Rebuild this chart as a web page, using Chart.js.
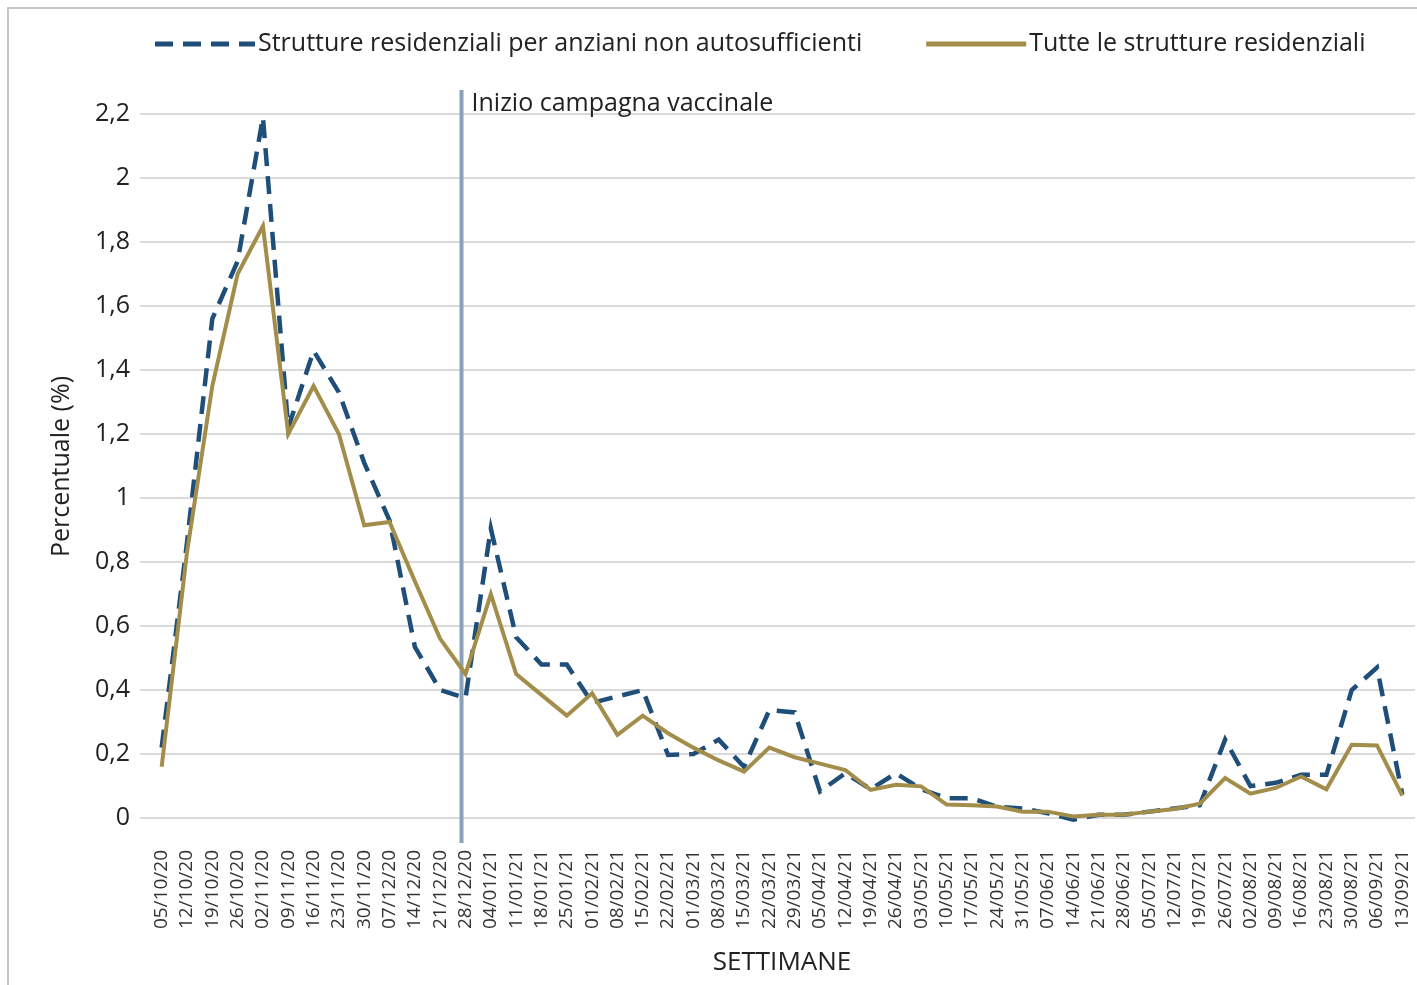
<!DOCTYPE html>
<html>
<head>
<meta charset="utf-8">
<script src="https://cdn.jsdelivr.net/npm/chart.js@4/dist/chart.umd.min.js"></script>
<style>
    html,body{margin:0;padding:0;background:#fff;overflow:hidden;}
    .cornice{position:absolute;left:7px;top:7px;width:1500px;height:1100px;border:2px solid #c6c6c6;}
    .box{position:absolute;left:0;top:0;width:1417px;height:985px;}
</style>
</head>
<body>
<div class="cornice"></div>
<div class="box"><canvas id="rsaChart"></canvas></div>
<script>

/* ============================================================
   DATI
============================================================ */

const settimane=[
    "05/10/20","12/10/20","19/10/20","26/10/20","02/11/20","09/11/20","16/11/20","23/11/20",
    "30/11/20","07/12/20","14/12/20","21/12/20","28/12/20","04/01/21","11/01/21","18/01/21",
    "25/01/21","01/02/21","08/02/21","15/02/21","22/02/21","01/03/21","08/03/21","15/03/21",
    "22/03/21","29/03/21","05/04/21","12/04/21","19/04/21","26/04/21","03/05/21","10/05/21",
    "17/05/21","24/05/21","31/05/21","07/06/21","14/06/21","21/06/21","28/06/21","05/07/21",
    "12/07/21","19/07/21","26/07/21","02/08/21","09/08/21","16/08/21","23/08/21","30/08/21",
    "06/09/21","13/09/21"
];

const anzianiNonAutosuff=[
    0.22,0.86,1.56,1.74,2.19,1.22,1.46,1.33,1.11,0.93,
    0.535,0.40,0.375,0.905,0.565,0.48,0.48,0.36,0.38,0.40,
    0.197,0.20,0.245,0.16,0.337,0.33,0.083,0.14,0.09,0.14,
    0.09,0.062,0.062,0.035,0.03,0.015,-0.005,0.01,0.01,0.02,
    0.03,0.04,0.245,0.10,0.11,0.135,0.135,0.40,0.47,0.073
];

const tutteStrutture=[
    0.16,0.83,1.35,1.70,1.85,1.20,1.35,1.20,0.915,0.925,
    0.74,0.56,0.45,0.70,0.45,0.385,0.32,0.39,0.26,0.32,
    0.265,0.22,0.18,0.145,0.22,0.19,0.17,0.15,0.088,0.104,
    0.099,0.042,0.04,0.036,0.02,0.02,0.005,0.01,0.01,0.02,
    0.028,0.045,0.125,0.076,0.094,0.13,0.09,0.229,0.227,0.07
];

const tickY=[0,0.2,0.4,0.6,0.8,1,1.2,1.4,1.6,1.8,2,2.2];

const inizioVaccini="28/12/20";

const FONT="'Open Sans', sans-serif";


/* ============================================================
   LINEA VERTICALE + LEGENDA
============================================================ */

const lineaVaccini={
    id:"lineaVaccini",
    beforeDatasetsDraw(chart){
        const {ctx,chartArea,scales}=chart;
        const x=scales.x.getPixelForValue(settimane.indexOf(inizioVaccini))-4;
        ctx.save();
        ctx.strokeStyle="#8aa1b9";
        ctx.lineWidth=4;
        ctx.beginPath();
        ctx.moveTo(x,chartArea.top);
        ctx.lineTo(x,chartArea.bottom);
        ctx.stroke();
        ctx.fillStyle="#222";
        ctx.font="25px "+FONT;
        ctx.textBaseline="middle";
        ctx.fillText("Inizio campagna vaccinale",x+10,104);
        ctx.restore();
    }
};

const legenda={
    id:"legenda",
    afterDraw(chart){
        const ctx=chart.ctx;
        let x=155;
        const y=44;
        ctx.save();
        ctx.font="25px "+FONT;
        ctx.textBaseline="middle";
        chart.data.datasets.forEach(ds=>{
            ctx.strokeStyle=ds.borderColor;
            ctx.lineWidth=5;
            ctx.setLineDash(ds.borderDash||[]);
            ctx.beginPath();
            ctx.moveTo(x,y);
            ctx.lineTo(x+100,y);
            ctx.stroke();
            ctx.setLineDash([]);
            ctx.fillStyle="#222";
            ctx.fillText(ds.label,x+103,y);
            x+=103+ctx.measureText(ds.label).width+64;
        });
        ctx.restore();
    }
};


/* ============================================================
   GRAFICO
============================================================ */

const rsa=document.getElementById("rsaChart");

new Chart(rsa,{
    type:"line",
    data:{
        labels:settimane,
        datasets:[{
            label:"Strutture residenziali per anziani non autosufficienti",
            data:anzianiNonAutosuff,
            borderColor:"#1f4e79",
            borderWidth:4.5,
            borderDash:[18,10],
            pointRadius:0,
            tension:0,
            order:1
        },{
            label:"Tutte le strutture residenziali",
            data:tutteStrutture,
            borderColor:"#a38d4a",
            borderWidth:4,
            pointRadius:0,
            tension:0,
            order:0
        }]
    },
    options:{
        responsive:true,
        maintainAspectRatio:false,
        animation:false,
        layout:{padding:{top:90,right:2,left:0,bottom:0}},
        plugins:{
            legend:{display:false},
            tooltip:{enabled:false}
        },
        scales:{
            x:{
                offset:true,
                grid:{display:false,drawTicks:false},
                border:{display:false},
                ticks:{
                    autoSkip:false,
                    maxRotation:90,
                    minRotation:90,
                    padding:7,
                    color:"#333",
                    font:{family:FONT,size:19}
                },
                title:{
                    display:true,
                    text:"SETTIMANE",
                    color:"#222",
                    font:{family:FONT,size:26},
                    padding:{top:0,bottom:7}
                },
                afterFit:s=>{
                    s.height=142;
                    s.paddingLeft=0;
                    s.paddingRight=0;
                }
            },
            y:{
                min:-0.078,
                max:2.275,
                afterBuildTicks:s=>{s.ticks=tickY.map(v=>({value:v}));},
                grid:{color:"#dadada",lineWidth:2,tickLength:9},
                border:{display:false},
                ticks:{
                    padding:10,
                    color:"#222",
                    font:{family:FONT,size:25},
                    callback:v=>String(Math.round(v*10)/10).replace(".",",")
                },
                title:{
                    display:true,
                    text:"Percentuale (%)",
                    color:"#222",
                    font:{family:FONT,size:25},
                    padding:{top:47,bottom:0}
                },
                afterFit:s=>{s.width=149;}
            }
        }
    },
    plugins:[lineaVaccini,legenda]
});

</script>
</body>
</html>
